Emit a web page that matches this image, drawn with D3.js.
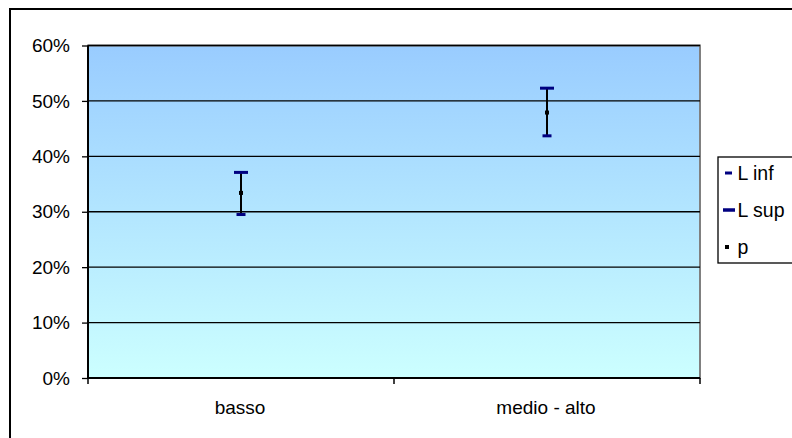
<!DOCTYPE html>
<html>
<head>
<meta charset="utf-8">
<script src="https://cdn.jsdelivr.net/npm/d3@7"></script>
<style>
  body { margin: 0; background: #fff; }
  svg text { font-family: "Liberation Sans", Arial, sans-serif; }
</style>
</head>
<body>
<div id="chart"></div>
<script>
// data
var categories = ["basso", "medio - alto"];
var lInf = [0.295, 0.437];
var lSup = [0.371, 0.523];
var pVal = [0.334, 0.479];
var yTicks = [0, 0.1, 0.2, 0.3, 0.4, 0.5, 0.6];
var legendLabels = ["L inf", "L sup", "p"];

var width = 792, height = 438;
var margin = { left: 88, top: 45.5, right: 700, bottom: 378 };

var svg = d3.select("#chart").append("svg")
    .attr("width", width)
    .attr("height", height);

// outer chart border (runs off the picture on right and bottom)
svg.append("rect")
    .attr("x", 10).attr("y", 9)
    .attr("width", 800).attr("height", 450)
    .attr("fill", "#fff")
    .attr("stroke", "#000")
    .attr("stroke-width", 2);

var defs = svg.append("defs");
var grad = defs.append("linearGradient")
    .attr("id", "bg").attr("x1", 0).attr("y1", 0).attr("x2", 0).attr("y2", 1);
grad.append("stop").attr("offset", "0%").attr("stop-color", "#99ccff");
grad.append("stop").attr("offset", "100%").attr("stop-color", "#ccffff");

var y = d3.scaleLinear().domain([0, 0.6]).range([margin.bottom, margin.top]);
var x = d3.scaleBand().domain(categories).range([margin.left, margin.right]);

// plot area
svg.append("rect")
    .attr("x", margin.left).attr("y", margin.top)
    .attr("width", margin.right - margin.left)
    .attr("height", margin.bottom - margin.top)
    .attr("fill", "url(#bg)")
    .attr("stroke", "#808080")
    .attr("stroke-width", 2);

// gridlines
svg.selectAll(".grid")
    .data(yTicks.slice(1))
    .enter().append("line")
    .attr("x1", margin.left).attr("x2", margin.right)
    .attr("y1", function(d) { return y(d); })
    .attr("y2", function(d) { return y(d); })
    .attr("stroke", "#000")
    .attr("stroke-width", 1.3);

// y axis
var yAxis = svg.append("g")
    .attr("transform", "translate(" + margin.left + ",0)")
    .call(d3.axisLeft(y).tickValues(yTicks).tickFormat(d3.format(".0%")).tickSize(6).tickPadding(12));
yAxis.select(".domain").attr("stroke", "#000").attr("stroke-width", 2).attr("d", "M0," + margin.bottom + "V" + margin.top);
yAxis.selectAll(".tick line").attr("stroke", "#000").attr("stroke-width", 1.3);
yAxis.selectAll("text").attr("font-size", 19).attr("fill", "#000")
    .attr("font-family", "'Liberation Sans', Arial, sans-serif");

// x axis
var xAxis = svg.append("g")
    .attr("transform", "translate(0," + margin.bottom + ")");
xAxis.append("line")
    .attr("x1", margin.left).attr("x2", margin.right)
    .attr("stroke", "#000").attr("stroke-width", 2);
var bounds = [margin.left].concat(categories.map(function(c) { return x(c) + x.bandwidth(); }));
xAxis.selectAll(".xtick")
    .data(bounds)
    .enter().append("line")
    .attr("x1", function(d) { return d; }).attr("x2", function(d) { return d; })
    .attr("y1", 0).attr("y2", 6)
    .attr("stroke", "#000").attr("stroke-width", 1.5);
xAxis.selectAll(".xlabel")
    .data(categories)
    .enter().append("text")
    .attr("x", function(d) { return x(d) + x.bandwidth() / 2 - 1; })
    .attr("y", 36)
    .attr("text-anchor", "middle")
    .attr("font-size", 19)
    .text(function(d) { return d; });

// error bars
var cx = function(i) { return x(categories[i]) + x.bandwidth() / 2; };
var marks = svg.append("g");
categories.forEach(function(c, i) {
    marks.append("line")
        .attr("x1", cx(i)).attr("x2", cx(i))
        .attr("y1", y(lSup[i])).attr("y2", y(lInf[i]))
        .attr("stroke", "#000").attr("stroke-width", 2);
    marks.append("rect")
        .attr("x", cx(i) - 7).attr("y", y(lSup[i]) - 1.5)
        .attr("width", 14).attr("height", 3)
        .attr("fill", "#000080");
    marks.append("rect")
        .attr("x", cx(i) - 4.5).attr("y", y(lInf[i]) - 1.5)
        .attr("width", 9).attr("height", 3)
        .attr("fill", "#000080");
    marks.append("rect")
        .attr("x", cx(i) - 2).attr("y", y(pVal[i]) - 2)
        .attr("width", 4).attr("height", 4)
        .attr("fill", "#000");
});

// legend
var legend = svg.append("g").attr("transform", "translate(718,157)");
legend.append("rect")
    .attr("width", 90).attr("height", 106)
    .attr("fill", "#fff").attr("stroke", "#000").attr("stroke-width", 1.3);
var markW = [7, 12, 4];
var markH = [3, 3.5, 4];
var markX = [10.5, 11, 9];
var markC = ["#000080", "#000080", "#000"];
legendLabels.forEach(function(l, i) {
    var ly = 16 + i * 37;
    legend.append("rect")
        .attr("x", markX[i] - markW[i] / 2).attr("y", ly - markH[i] / 2)
        .attr("width", markW[i]).attr("height", markH[i])
        .attr("fill", markC[i]);
    legend.append("text")
        .attr("x", 19.5).attr("y", ly + 7)
        .attr("font-size", 19.5)
        .text(l);
});
</script>
</body>
</html>
